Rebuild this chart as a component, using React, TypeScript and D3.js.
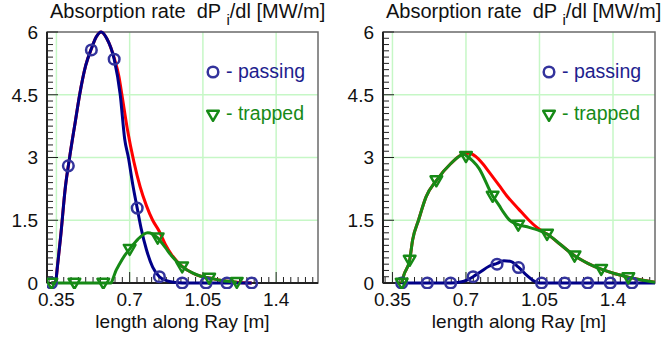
import React from "react";
import * as d3 from "d3";

// ---- left ray: absorption along the ray ----
const leftPassX = [0.326, 0.345, 0.355, 0.37, 0.393, 0.413, 0.44, 0.461, 0.49, 0.517, 0.54, 0.564, 0.59, 0.626, 0.655, 0.676, 0.694, 0.715, 0.736, 0.755, 0.78, 0.81, 0.842, 0.88, 0.92, 0.951, 1.06, 1.16, 1.283];
const leftPassY = [0, 0, 0.4, 1.1, 2.3, 3.0, 3.85, 4.5, 5.2, 5.6, 5.88, 6.0, 5.85, 5.35, 4.5, 3.45, 3.0, 2.35, 1.79, 1.3, 0.8, 0.38, 0.15, 0.05, 0.01, 0, 0, 0, 0];

const leftTrapX = [0.326, 0.436, 0.574, 0.611, 0.62, 0.635, 0.651, 0.675, 0.7, 0.74, 0.786, 0.81, 0.834, 0.87, 0.9, 0.951, 1.0, 1.04, 1.08, 1.14, 1.212];
const leftTrapY = [0, 0, 0, 0, 0.1, 0.3, 0.45, 0.65, 0.81, 1.05, 1.2, 1.17, 1.08, 0.85, 0.65, 0.39, 0.24, 0.16, 0.12, 0.06, 0.02];

const leftTotX = [0.326, 0.345, 0.355, 0.37, 0.393, 0.413, 0.44, 0.461, 0.49, 0.517, 0.54, 0.564, 0.59, 0.626, 0.649, 0.663, 0.69, 0.72, 0.75, 0.78, 0.81, 0.84, 0.87, 0.9, 0.951, 1.0, 1.04, 1.08, 1.14, 1.212, 1.283];
const leftTotY = [0, 0, 0.4, 1.1, 2.3, 3.0, 3.85, 4.5, 5.2, 5.6, 5.88, 6.0, 5.85, 5.38, 4.93, 4.5, 3.65, 2.9, 2.3, 1.85, 1.5, 1.25, 0.93, 0.68, 0.4, 0.24, 0.16, 0.12, 0.06, 0.02, 0];

const leftPassMarkX = [0.326, 0.407, 0.517, 0.626, 0.736, 0.842, 0.951, 1.065, 1.165, 1.283];
const leftPassMarkY = [0, 2.8, 5.57, 5.35, 1.79, 0.15, 0, 0, 0, 0];
const leftTrapMarkX = [0.326, 0.436, 0.574, 0.7, 0.834, 0.951, 1.08, 1.212];
const leftTrapMarkY = [0, 0, 0, 0.81, 1.08, 0.39, 0.12, 0.02];

// ---- right ray ----
const rightPassX = [0.394, 0.516, 0.627, 0.68, 0.7, 0.734, 0.77, 0.81, 0.848, 0.88, 0.91, 0.95, 0.99, 1.02, 1.05, 1.17, 1.28, 1.387, 1.49, 1.6];
const rightPassY = [0, 0, 0, 0.03, 0.06, 0.15, 0.27, 0.4, 0.47, 0.53, 0.52, 0.38, 0.18, 0.06, 0, 0, 0, 0, 0, 0];

const rightTrapX = [0.394, 0.405, 0.432, 0.446, 0.474, 0.51, 0.559, 0.627, 0.69, 0.7, 0.762, 0.827, 0.857, 0.88, 0.904, 0.93, 0.952, 1.0, 1.05, 1.086, 1.15, 1.217, 1.28, 1.344, 1.41, 1.473, 1.53, 1.6];
const rightTrapY = [0, 0.2, 0.55, 1.03, 1.5, 2.06, 2.45, 2.85, 3.08, 3.05, 2.74, 2.08, 1.86, 1.68, 1.52, 1.43, 1.39, 1.33, 1.25, 1.17, 0.92, 0.65, 0.47, 0.33, 0.22, 0.14, 0.08, 0.02];

const rightTotX = [0.394, 0.405, 0.432, 0.446, 0.474, 0.51, 0.559, 0.627, 0.69, 0.715, 0.745, 0.78, 0.815, 0.857, 0.9, 0.952, 1.0, 1.03, 1.06, 1.086, 1.15, 1.217, 1.28, 1.344, 1.41, 1.473, 1.53, 1.6];
const rightTotY = [0, 0.2, 0.55, 1.03, 1.5, 2.06, 2.45, 2.85, 3.09, 3.1, 3.03, 2.85, 2.62, 2.34, 2.05, 1.76, 1.5, 1.36, 1.25, 1.17, 0.92, 0.65, 0.47, 0.33, 0.22, 0.14, 0.08, 0.02];

const rightPassMarkX = [0.394, 0.516, 0.627, 0.734, 0.848, 0.95, 1.06, 1.17, 1.28, 1.387, 1.49];
const rightPassMarkY = [0, 0, 0, 0.15, 0.45, 0.37, 0, 0, 0, 0, 0];
const rightTrapMarkX = [0.394, 0.432, 0.559, 0.7, 0.827, 0.949, 1.086, 1.217, 1.344, 1.473];
const rightTrapMarkY = [0, 0.55, 2.45, 3.03, 2.08, 1.39, 1.17, 0.65, 0.33, 0.13];

const xTicks = [0.35, 0.7, 1.05, 1.4];
const xTickLabels = ["0.35", "0.7", "1.05", "1.4"];
const yTicks = [0, 1.5, 3, 4.5, 6];
const yTickLabels = ["0", "1.5", "3", "4.5", "6"];

const FONT = "'Liberation Sans', Arial, Helvetica, sans-serif";
const RED = "#ff0000";
const BLUE = "#000088";
const GREEN = "#168a16";
const MARK_BLUE = "#33339c";

const zip = (xs: number[], ys: number[]) => xs.map((x, i) => [x, ys[i]] as [number, number]);

interface PanelProps {
  left: number;
  right: number;
  passX: number[]; passY: number[];
  trapX: number[]; trapY: number[];
  totX: number[]; totY: number[];
  pmX: number[]; pmY: number[];
  tmX: number[]; tmY: number[];
}

const Panel: React.FC<PanelProps> = (p) => {
  const top = 32;
  const bottom = 283;
  const x = d3.scaleLinear().domain([0.305, 1.6]).range([p.left, p.right]);
  const y = d3.scaleLinear().domain([0, 6]).range([bottom, top]);

  const line = d3
    .line<[number, number]>()
    .x((d) => x(d[0]))
    .y((d) => y(d[1]))
    .curve(d3.curveMonotoneX);

  // minor ticks
  const xMinor = d3.range(0.315, 1.6, 0.035);
  const yMinor = d3.range(0, 6.001, 0.15);

  const tri = (cx: number, cy: number) =>
    `M${cx - 5.8},${cy - 4.2} L${cx + 5.8},${cy - 4.2} L${cx},${cy + 5.8} Z`;

  const clipId = `clip-${p.left}`;

  return (
    <g>
      <defs>
        <clipPath id={clipId}>
          <rect x={p.left} y={top - 6} width={p.right - p.left} height={bottom - top + 12} />
        </clipPath>
      </defs>
      {/* grid */}
      {xTicks.map((t) => (
        <line key={"gx" + t} x1={x(t)} x2={x(t)} y1={top} y2={bottom} stroke="#c6f7c6" strokeWidth={1.5} />
      ))}
      {yTicks.slice(1, -1).map((t) => (
        <line key={"gy" + t} x1={p.left} x2={p.right} y1={y(t)} y2={y(t)} stroke="#c6f7c6" strokeWidth={1.5} />
      ))}
      {/* frame */}
      <rect x={p.left} y={top} width={p.right - p.left} height={bottom - top} fill="none" stroke="#6a6a6a" strokeWidth={1.5} />
      {/* ticks */}
      {yMinor.map((t, i) => (
        <line key={"ym" + i} x1={p.left} x2={p.left + (i % 10 === 0 ? 11 : 6)} y1={y(t)} y2={y(t)} stroke="#222" strokeWidth={1} />
      ))}
      {xMinor.map((t, i) => (
        <line key={"xm" + i} x1={x(t)} x2={x(t)} y1={bottom} y2={bottom - ((i - 1) % 10 === 0 ? 11 : 6)} stroke="#222" strokeWidth={1} />
      ))}
      <line x1={p.left} x2={p.left} y1={top} y2={bottom} stroke="#222" strokeWidth={2} />
      <line x1={p.left} x2={p.right} y1={bottom} y2={bottom} stroke="#222" strokeWidth={2} />

      {/* curves */}
      <g clipPath={`url(#${clipId})`}>
        <path d={line(zip(p.totX, p.totY)) || ""} fill="none" stroke={RED} strokeWidth={3} />
        <path d={line(zip(p.passX, p.passY)) || ""} fill="none" stroke={BLUE} strokeWidth={3} />
        <path d={line(zip(p.trapX, p.trapY)) || ""} fill="none" stroke={GREEN} strokeWidth={3} />
        {p.pmX.map((v, i) => (
          <circle key={"pm" + i} cx={x(v)} cy={y(p.pmY[i])} r={5.3} fill="none" stroke={MARK_BLUE} strokeWidth={2.5} />
        ))}
        {p.tmX.map((v, i) => (
          <path key={"tm" + i} d={tri(x(v), y(p.tmY[i]))} fill="none" stroke={GREEN} strokeWidth={2.5} strokeLinejoin="round" />
        ))}
      </g>

      {/* tick labels */}
      {yTicks.map((t, i) => (
        <text key={"yl" + t} x={p.left - 9} y={y(t)} dy="0.36em" textAnchor="end" fontSize={19} fontFamily={FONT} fill="#111">
          {yTickLabels[i]}
        </text>
      ))}
      {xTicks.map((t, i) => (
        <text key={"xl" + t} x={x(t)} y={306} textAnchor="middle" fontSize={19} fontFamily={FONT} fill="#111">
          {xTickLabels[i]}
        </text>
      ))}
      <text x={(p.left + p.right) / 2} y={327.5} textAnchor="middle" fontSize={19} fontFamily={FONT} fill="#111">
        length along Ray [m]
      </text>

      {/* title */}
      <text x={p.left + 3} y={18} fontSize={20} fontFamily={FONT} fill="#111" xmlSpace="preserve" style={{ whiteSpace: "pre" }}>
        {"Absorption rate  dP "}
        <tspan dy={7} fontSize={15}>i</tspan>
        <tspan dy={-7}>{"/dl [MW/m]"}</tspan>
      </text>

      {/* legend */}
      <circle cx={p.left + 166} cy={72} r={5.3} fill="none" stroke={MARK_BLUE} strokeWidth={2.5} />
      <text x={p.left + 179} y={78} fontSize={19.5} fontFamily={FONT} fill="#1e1e8e">- passing</text>
      <path d={tri(p.left + 166, 115)} fill="none" stroke={GREEN} strokeWidth={2.5} strokeLinejoin="round" />
      <text x={p.left + 179} y={120} fontSize={19.5} fontFamily={FONT} fill="#178a17">- trapped</text>
    </g>
  );
};

export default function App() {
  return (
    <svg width={663} height={339} style={{ position: "absolute", left: 0, top: 0, background: "#fff" }}>
      <rect width={663} height={339} fill="#fff" />
      <Panel
        left={47} right={318}
        passX={leftPassX} passY={leftPassY}
        trapX={leftTrapX} trapY={leftTrapY}
        totX={leftTotX} totY={leftTotY}
        pmX={leftPassMarkX} pmY={leftPassMarkY}
        tmX={leftTrapMarkX} tmY={leftTrapMarkY}
      />
      <Panel
        left={383} right={655}
        passX={rightPassX} passY={rightPassY}
        trapX={rightTrapX} trapY={rightTrapY}
        totX={rightTotX} totY={rightTotY}
        pmX={rightPassMarkX} pmY={rightPassMarkY}
        tmX={rightTrapMarkX} tmY={rightTrapMarkY}
      />
    </svg>
  );
}
